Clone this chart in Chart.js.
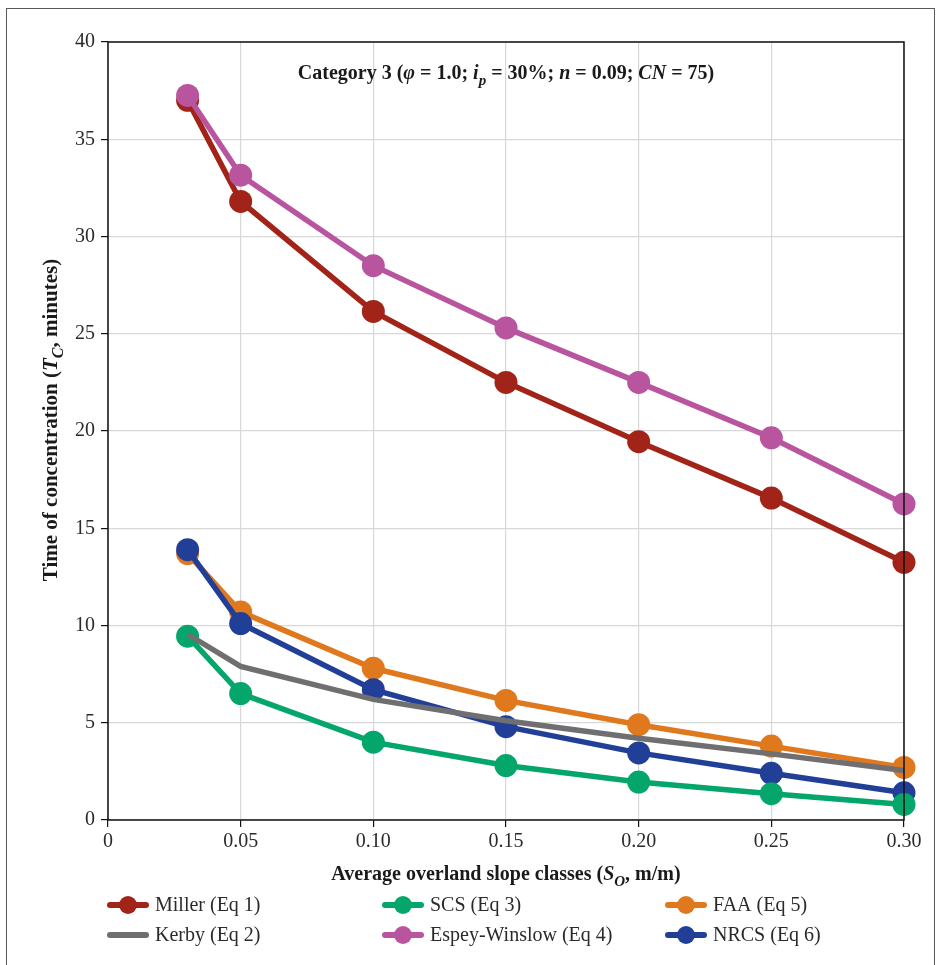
<!DOCTYPE html>
<html lang="en">
<head>
    <meta charset="UTF-8">
    <title>Time of concentration - Category 3</title>
    <script src="https://cdn.jsdelivr.net/npm/chart.js"></script>
    <style>
        html, body { margin: 0; padding: 0; background: #fff; }
        .wrap { position: relative; width: 941px; height: 965px; }
        .frame { position: absolute; left: 6px; top: 8px; width: 929px; height: 980px; border: 1.5px solid #5a5a5a; box-sizing: border-box; pointer-events: none; }
    </style>
</head>
<body>
    <div class="wrap">
        <canvas id="tcChart" width="941" height="965"></canvas>
        <div class="frame"></div>
    </div>

    <script>
        // slope classes (m/m)
        const slopes = [0.03, 0.05, 0.10, 0.15, 0.20, 0.25, 0.30];
        const xTicks = [0, 0.05, 0.10, 0.15, 0.20, 0.25, 0.30];
        const yTicks = [0, 5, 10, 15, 20, 25, 30, 35, 40];

        // Tc values in minutes
        const miller = [37.0, 31.8, 26.15, 22.5, 19.45, 16.55, 13.25];
        const kerby = [9.55, 7.9, 6.2, 5.1, 4.2, 3.4, 2.55];
        const scs = [9.45, 6.5, 4.0, 2.8, 1.95, 1.35, 0.8];
        const espey = [37.25, 33.15, 28.5, 25.3, 22.5, 19.65, 16.25];
        const faa = [13.7, 10.7, 7.8, 6.15, 4.9, 3.8, 2.7];
        const nrcs = [13.9, 10.1, 6.7, 4.8, 3.45, 2.4, 1.4];

        const SERIF = '"Liberation Serif", "DejaVu Serif", serif';

        function series(label, data, color, order, markers) {
            return {
                label, order,
                data: data.map((v, i) => ({ x: slopes[i], y: v })),
                borderColor: color,
                backgroundColor: color,
                borderWidth: 5.5,
                pointRadius: markers ? 11.5 : 0,
                pointHoverRadius: markers ? 11.5 : 0,
                pointBorderWidth: 0,
                showMarker: markers,
                tension: 0,
                clip: false
            };
        }

        const datasets = [
            series('Miller (Eq 1)', miller, '#a22318', 5, true),
            series('Kerby (Eq 2)', kerby, '#6f6f71', 0, false),
            series('SCS (Eq 3)', scs, '#04a66b', 1, true),
            series('Espey-Winslow (Eq 4)', espey, '#b9559f', 4, true),
            series('FAA (Eq 5)', faa, '#e0781e', 3, true),
            series('NRCS (Eq 6)', nrcs, '#223f98', 2, true)
        ];

        // draw a line of text made of parts with their own font / offset
        function richText(ctx, parts, x, y, align) {
            let w = 0;
            parts.forEach(p => { ctx.font = p.font; w += ctx.measureText(p.t).width; });
            let cx = align === 'center' ? x - w / 2 : x;
            parts.forEach(p => {
                ctx.font = p.font;
                ctx.fillText(p.t, cx, y + (p.dy || 0));
                cx += ctx.measureText(p.t).width;
            });
        }

        const decorations = {
            id: 'decorations',
            afterDatasetsDraw(chart) {
                const ctx = chart.ctx;
                const a = chart.chartArea;
                ctx.save();
                // plot frame
                ctx.strokeStyle = '#111';
                ctx.lineWidth = 1.5;
                ctx.strokeRect(a.left, a.top, a.right - a.left, a.bottom - a.top);

                ctx.fillStyle = '#1a1a1a';
                ctx.textBaseline = 'alphabetic';
                const b = 'bold 20px ' + SERIF;
                const bi = 'italic bold 20px ' + SERIF;
                const sub = 'italic bold 15px ' + SERIF;

                // title in the plot
                richText(ctx, [
                    { t: 'Category 3 (', font: b },
                    { t: 'φ', font: bi },
                    { t: ' = 1.0; ', font: b },
                    { t: 'i', font: bi },
                    { t: 'p', font: sub, dy: 6 },
                    { t: ' = 30%; ', font: b },
                    { t: 'n', font: bi },
                    { t: ' = 0.09; ', font: b },
                    { t: 'CN', font: bi },
                    { t: ' = 75)', font: b }
                ], 506, 79, 'center');

                // x axis title
                richText(ctx, [
                    { t: 'Average overland slope classes (', font: b },
                    { t: 'S', font: bi },
                    { t: 'O', font: sub, dy: 6 },
                    { t: ', m/m)', font: b }
                ], 506, 880, 'center');

                // y axis title
                const yb = 'bold 21px ' + SERIF;
                ctx.save();
                ctx.translate(57, 420);
                ctx.rotate(-Math.PI / 2);
                richText(ctx, [
                    { t: 'Time of concentration (', font: yb },
                    { t: 'T', font: 'italic ' + yb },
                    { t: 'C', font: 'italic bold 16px ' + SERIF, dy: 6 },
                    { t: ', minutes)', font: yb }
                ], 0, 0, 'center');
                ctx.restore();

                // legend, 3 columns x 2 rows
                const cols = [110, 385, 668];
                const rows = [905, 935];
                ctx.font = '20px ' + SERIF;
                ctx.textBaseline = 'middle';
                chart.data.datasets.forEach((ds, i) => {
                    const x = cols[Math.floor(i / 2)];
                    const y = rows[i % 2];
                    ctx.strokeStyle = ds.borderColor;
                    ctx.lineWidth = 6;
                    ctx.lineCap = 'round';
                    ctx.beginPath();
                    ctx.moveTo(x, y);
                    ctx.lineTo(x + 36, y);
                    ctx.stroke();
                    if (ds.showMarker) {
                        ctx.fillStyle = ds.borderColor;
                        ctx.beginPath();
                        ctx.arc(x + 18, y, 9, 0, Math.PI * 2);
                        ctx.fill();
                    }
                    ctx.fillStyle = '#2a2a2a';
                    ctx.fillText(ds.label, x + 45, y + 1);
                });
                ctx.restore();
            }
        };

        new Chart(document.getElementById('tcChart'), {
            type: 'line',
            data: { datasets },
            options: {
                responsive: false,
                animation: false,
                events: [],
                layout: { padding: { left: 0, right: 37, top: 42, bottom: 115 } },
                plugins: { legend: { display: false }, tooltip: { enabled: false } },
                scales: {
                    x: {
                        type: 'linear',
                        min: 0, max: 0.30,
                        afterBuildTicks: s => { s.ticks = xTicks.map(v => ({ value: v })); },
                        afterFit: s => { s.height = 30; },
                        ticks: {
                            callback: v => v === 0 ? '0' : v.toFixed(2),
                            font: { family: SERIF, size: 20 },
                            color: '#2a2a2a',
                            padding: 3,
                            maxRotation: 0
                        },
                        grid: { color: '#d8d8d8', lineWidth: 1.2, tickLength: 7, tickColor: '#111' },
                        border: { display: false }
                    },
                    y: {
                        min: 0, max: 40,
                        afterBuildTicks: s => { s.ticks = yTicks.map(v => ({ value: v })); },
                        afterFit: s => { s.width = 108; },
                        ticks: {
                            font: { family: SERIF, size: 20 },
                            color: '#2a2a2a',
                            padding: 6
                        },
                        grid: { color: '#d8d8d8', lineWidth: 1.2, tickLength: 7, tickColor: '#111' },
                        border: { display: false }
                    }
                }
            },
            plugins: [decorations]
        });
    </script>
</body>
</html>
